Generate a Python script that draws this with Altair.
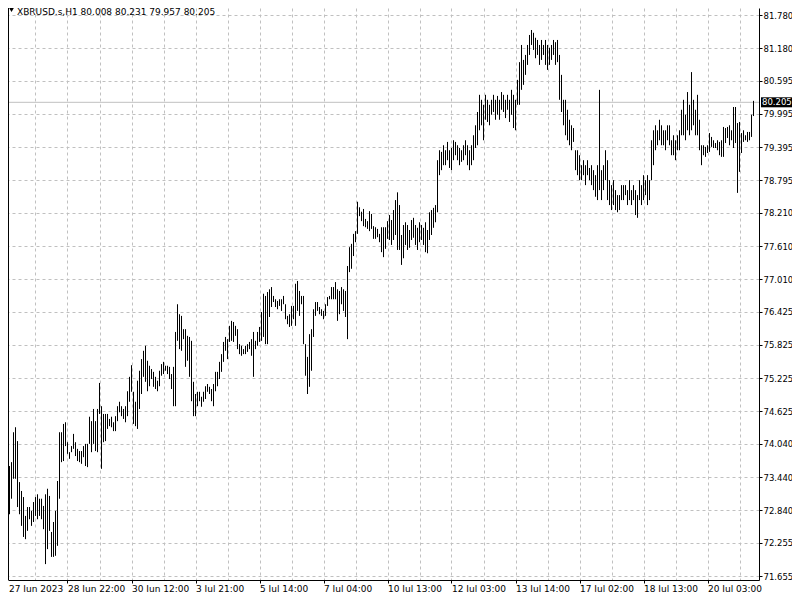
import json
import altair as alt
import pandas as pd

symbol = "XBRUSD.s,H1"
last_ohlc = [80.008, 80.231, 79.957, 80.205]

highs = [
    74.94, 74.71, 73.71, 73.64, 73.71, 74.25, 74.34, 74.09, 73.35, 73.19,
    73.08, 72.74, 72.90, 72.90, 72.83, 72.99, 73.08, 73.13, 73.05, 73.05,
    72.92, 73.13, 73.23, 73.10, 72.45, 72.63, 72.83, 73.37, 74.25, 74.25,
    74.40, 74.43, 74.07, 73.89, 74.00, 74.22, 74.07, 73.95, 73.91, 73.91,
    74.00, 74.04, 74.04, 74.53, 74.45, 74.67, 74.45, 74.67, 75.14, 74.72,
    74.58, 74.58, 74.58, 74.49, 74.53, 74.43, 74.54, 74.72, 74.80, 74.72,
    74.67, 74.72, 74.99, 75.25, 75.46, 74.98, 74.80, 75.18, 75.36, 75.57,
    75.72, 75.81, 75.54, 75.45, 75.39, 75.34, 75.25, 75.18, 75.36, 75.48,
    75.52, 75.45, 75.45, 75.43, 75.30, 75.43, 76.06, 76.56, 76.38, 76.35,
    76.11, 76.11, 75.99, 75.97, 75.90, 75.16, 74.94, 74.98, 74.98, 74.89,
    74.98, 75.08, 75.12, 75.07, 75.03, 75.12, 75.34, 75.34, 75.52, 75.66,
    75.88, 75.97, 75.93, 76.17, 76.26, 76.24, 76.17, 76.11, 75.84, 75.81,
    75.75, 75.81, 75.84, 75.88, 75.93, 76.06, 75.90, 76.06, 76.15, 76.42,
    76.75, 76.71, 76.78, 76.83, 76.87, 76.71, 76.65, 76.62, 76.65, 76.65,
    76.71, 76.56, 76.35, 76.38, 76.53, 76.53, 76.93, 76.98, 76.80, 76.71,
    76.71, 75.84, 75.61, 76.02, 76.11, 76.47, 76.60, 76.60, 76.51, 76.47,
    76.44, 76.56, 76.69, 76.71, 76.87, 76.87, 76.96, 76.83, 76.80, 76.87,
    76.83, 76.80, 77.25, 77.59, 77.65, 77.83, 77.88, 78.41, 78.31, 78.23,
    78.28, 78.10, 78.06, 78.24, 78.19, 77.97, 77.95, 77.92, 77.83, 77.95,
    77.95, 77.95, 78.06, 78.17, 78.08, 78.26, 78.44, 78.58, 78.35, 77.81,
    77.99, 78.04, 77.99, 77.90, 78.08, 78.12, 77.99, 77.94, 78.04, 77.99,
    77.94, 78.04, 77.90, 78.22, 78.26, 78.30, 78.35, 79.16, 79.34, 79.31,
    79.43, 79.34, 79.49, 79.34, 79.38, 79.52, 79.49, 79.43, 79.38, 79.34,
    79.43, 79.52, 79.43, 79.34, 79.43, 79.61, 79.79, 80.03, 80.34, 80.25,
    80.16, 80.34, 80.25, 80.16, 80.25, 80.34, 80.25, 80.32, 80.25, 80.39,
    80.34, 80.25, 80.34, 80.25, 80.43, 80.34, 80.25, 80.61, 80.93, 81.24,
    80.97, 81.06, 81.24, 81.42, 81.51, 81.46, 81.37, 81.33, 81.24, 81.33,
    81.24, 81.33, 81.24, 81.19, 81.24, 81.33, 81.29, 81.33, 81.06, 80.70,
    80.25, 80.25, 80.07, 79.89, 79.79, 79.74, 79.34, 79.34, 79.25, 79.07,
    79.16, 79.07, 79.16, 79.02, 79.07, 78.98, 78.89, 79.07, 80.43, 78.98,
    79.07, 79.34, 79.16, 78.80, 78.71, 78.80, 78.62, 78.53, 78.53, 78.71,
    78.71, 78.71, 78.62, 78.80, 78.62, 78.71, 78.62, 78.53, 78.80, 78.71,
    78.89, 78.80, 78.89, 78.80, 79.52, 79.70, 79.79, 79.70, 79.89, 79.79,
    79.70, 79.70, 79.79, 79.79, 79.52, 79.61, 79.52, 79.61, 79.70, 80.07,
    80.25, 79.98, 80.39, 80.16, 80.75, 80.25, 80.07, 80.34, 79.89, 79.43,
    79.43, 79.40, 79.43, 79.65, 79.58, 79.52, 79.47, 79.52, 79.49, 79.52,
    79.76, 79.74, 79.76, 79.79, 79.70, 80.12, 80.12, 79.83, 79.85, 79.65,
    79.70, 79.61, 79.67, 79.67, 79.98, 80.231,
]
lows = [
    74.35, 73.17, 73.35, 72.77, 73.05, 73.41, 73.41, 72.90, 72.77, 72.56,
    72.36, 72.32, 72.47, 72.68, 72.56, 72.63, 72.74, 72.68, 72.74, 72.68,
    72.50, 71.87, 72.14, 72.47, 72.00, 72.00, 72.02, 72.20, 73.05, 73.71,
    73.73, 74.00, 73.86, 73.77, 73.89, 73.95, 73.82, 73.73, 73.71, 73.68,
    73.80, 73.64, 73.62, 74.04, 73.89, 74.04, 73.91, 73.89, 74.58, 73.59,
    74.07, 74.09, 74.31, 74.36, 74.34, 74.27, 74.27, 74.45, 74.61, 74.54,
    74.49, 74.43, 74.54, 74.80, 74.98, 74.40, 74.36, 74.31, 74.67, 74.94,
    75.25, 75.16, 74.99, 75.08, 75.21, 75.07, 75.03, 74.99, 75.08, 75.27,
    75.30, 75.36, 75.30, 75.21, 75.03, 74.72, 74.72, 75.90, 75.75, 75.72,
    75.93, 75.43, 75.54, 75.25, 74.81, 74.54, 74.54, 74.72, 74.81, 74.71,
    74.80, 74.85, 74.98, 74.94, 74.81, 74.72, 74.99, 75.08, 75.21, 75.34,
    75.52, 75.72, 75.57, 75.88, 75.90, 75.88, 75.99, 75.75, 75.66, 75.63,
    75.66, 75.66, 75.70, 75.75, 75.63, 75.25, 75.75, 75.81, 75.88, 75.90,
    75.97, 75.84, 75.84, 76.33, 76.51, 76.60, 76.51, 76.47, 76.53, 76.44,
    76.56, 76.29, 76.20, 76.15, 76.17, 76.29, 76.17, 76.44, 76.35, 76.56,
    75.84, 75.27, 74.94, 75.07, 75.36, 75.97, 76.35, 76.44, 76.38, 76.35,
    76.29, 76.35, 76.53, 76.65, 76.65, 76.65, 76.65, 76.26, 76.38, 76.56,
    76.44, 76.33, 75.93, 77.14, 77.20, 77.43, 77.68, 77.83, 78.15, 78.06,
    77.97, 77.95, 77.92, 77.88, 77.92, 77.74, 77.74, 77.77, 77.68, 77.50,
    77.41, 77.56, 77.74, 77.72, 77.63, 77.72, 77.81, 77.54, 77.54, 77.27,
    77.39, 77.63, 77.54, 77.58, 77.72, 77.76, 77.63, 77.54, 77.68, 77.72,
    77.63, 77.50, 77.48, 77.72, 77.81, 77.94, 78.04, 78.22, 78.89, 78.98,
    79.07, 79.07, 79.16, 79.02, 78.98, 79.16, 79.25, 79.16, 79.07, 79.13,
    79.16, 79.25, 79.07, 78.98, 79.07, 79.16, 79.38, 79.43, 79.70, 79.79,
    79.52, 79.89, 79.85, 79.79, 79.98, 80.03, 79.89, 79.98, 79.89, 80.07,
    80.03, 79.92, 80.07, 79.85, 79.98, 79.74, 79.70, 80.16, 80.16, 80.43,
    80.52, 80.70, 80.88, 81.06, 81.24, 81.15, 81.00, 81.06, 80.88, 80.97,
    81.06, 80.88, 80.79, 80.88, 80.97, 81.06, 80.88, 80.93, 80.25, 80.03,
    79.79, 79.61, 79.52, 79.43, 79.34, 79.49, 78.98, 78.89, 78.80, 78.80,
    78.89, 78.71, 78.89, 78.80, 78.71, 78.62, 78.50, 78.44, 78.62, 78.44,
    78.62, 78.80, 78.44, 78.35, 78.26, 78.35, 78.26, 78.22, 78.26, 78.44,
    78.44, 78.53, 78.35, 78.44, 78.35, 78.44, 78.17, 78.12, 78.44, 78.35,
    78.44, 78.53, 78.35, 78.44, 78.80, 79.07, 79.34, 79.43, 79.52, 79.43,
    79.43, 79.34, 79.52, 79.43, 79.25, 79.25, 79.16, 79.34, 79.34, 79.61,
    79.61, 79.52, 79.70, 79.61, 79.70, 79.79, 79.61, 79.61, 79.34, 79.07,
    79.25, 79.22, 79.29, 79.31, 79.40, 79.38, 79.38, 79.34, 79.25, 79.22,
    79.22, 79.47, 79.56, 79.43, 79.52, 79.38, 79.47, 78.57, 78.95, 79.29,
    79.49, 79.52, 79.49, 79.52, 79.58, 79.957,
]

x_labels = ["27 Jun 2023", "28 Jun 22:00", "30 Jun 12:00", "3 Jul 21:00",
            "5 Jul 14:00", "7 Jul 04:00", "10 Jul 13:00", "12 Jul 03:00",
            "13 Jul 14:00", "17 Jul 02:00", "18 Jul 13:00", "20 Jul 03:00"]
label_step = 32
y_ticks = [81.780, 81.180, 80.595, 79.995, 79.395, 78.795, 78.210, 77.610,
           77.010, 76.425, 75.825, 75.225, 74.625, 74.040, 73.440, 72.840,
           72.255, 71.655]

FONT = "DejaVu Sans"
W, H = 751, 572
X0 = 2.25  # first visible bar position on the index scale

bars = pd.DataFrame({"bar": list(range(len(highs))), "high": highs, "low": lows})
last = pd.DataFrame({"close": [last_ohlc[3]]})
one = pd.DataFrame({"k": [0]})

xscale = alt.Scale(domain=[X0, X0 + W / 2], nice=False, zero=False)
yscale = alt.Scale(domain=[71.583, 81.907], nice=False, zero=False)

first_val = X0 + 0.25
grid_vals = [first_val] + list(range(label_step // 2, len(highs), label_step // 2))
x_axis = alt.Axis(
    values=grid_vals,
    labelExpr=(f"datum.value < {label_step // 2} ? '{x_labels[0]}' : "
               f"(datum.value % {label_step} == 0 ? {json.dumps(x_labels)}[datum.value / {label_step}] : '')"),
    labelAlign="left", labelBaseline="top", labelPadding=1,
    labelFont=FONT, labelFontSize=9, labelColor="black",
    labelOverlap=False, labelFlush=False,
    tickSize=3,
    tickColor={"condition": {"test": f"datum.value % {label_step} == 0", "value": "black"}, "value": "transparent"},
    domainColor="black", domainWidth=1,
    grid=True,
    gridColor={"condition": {"test": f"datum.value < {label_step // 2}", "value": "transparent"}, "value": "#c0c0c0"},
    gridDash=[3, 3], gridWidth=1,
    title=None,
)
y_axis = alt.Axis(
    orient="right", values=y_ticks, format=".3f",
    labelFont=FONT, labelFontSize=8.5, labelColor="black", labelPadding=1,
    tickSize=3, tickColor="black", domainColor="black", domainWidth=1,
    grid=True, gridColor="#c0c0c0", gridDash=[3, 3], gridWidth=1,
    title=None,
)

ohlc = alt.Chart(bars).mark_rule(color="black", strokeWidth=1, clip=True).encode(
    x=alt.X("bar:Q", scale=xscale, axis=x_axis),
    y=alt.Y("high:Q", scale=yscale, axis=y_axis),
    y2="low:Q",
)

price_line = alt.Chart(last).mark_rule(color="#c0c0c0", strokeWidth=1).encode(
    x=alt.value(0), x2=alt.value(W),
    y=alt.Y("close:Q", scale=yscale, axis=y_axis),
)

left_border = alt.Chart(one).mark_rule(color="black", strokeWidth=1).encode(
    x=alt.value(0.5), y=alt.value(0), y2=alt.value(H),
)

price_box = alt.Chart(last).mark_rect(color="black", yOffset=-5, y2Offset=5).encode(
    x=alt.value(W + 2), x2=alt.value(W + 33),
    y=alt.Y("close:Q", scale=yscale, axis=y_axis), y2="close:Q",
)
price_text = alt.Chart(last).mark_text(
    color="white", align="left", baseline="middle", font=FONT, fontSize=8.5
).encode(
    x=alt.value(W + 3),
    y=alt.Y("close:Q", scale=yscale, axis=y_axis),
    text=alt.Text("close:Q", format=".3f"),
)

header_str = symbol + "  " + " ".join(f"{v:.3f}" for v in last_ohlc)
header_tri = alt.Chart(one).mark_point(
    shape="triangle-down", filled=True, color="black", size=22, opacity=1
).encode(x=alt.value(3.5), y=alt.value(2))
header = alt.Chart(one).mark_text(
    align="left", baseline="middle", font=FONT, fontSize=9, color="black"
).encode(x=alt.value(9), y=alt.value(4), text=alt.value(header_str))

chart = alt.layer(
    price_line, ohlc, left_border, price_box, price_text, header_tri, header
).properties(
    width=W, height=H,
    autosize=alt.AutoSizeParams(type="none"),
    padding={"left": 0, "top": 0, "right": 33, "bottom": 12},
    background="white",
).configure_view(strokeWidth=0)

chart.save("out.html", embed_options={"renderer": "svg", "actions": False})
